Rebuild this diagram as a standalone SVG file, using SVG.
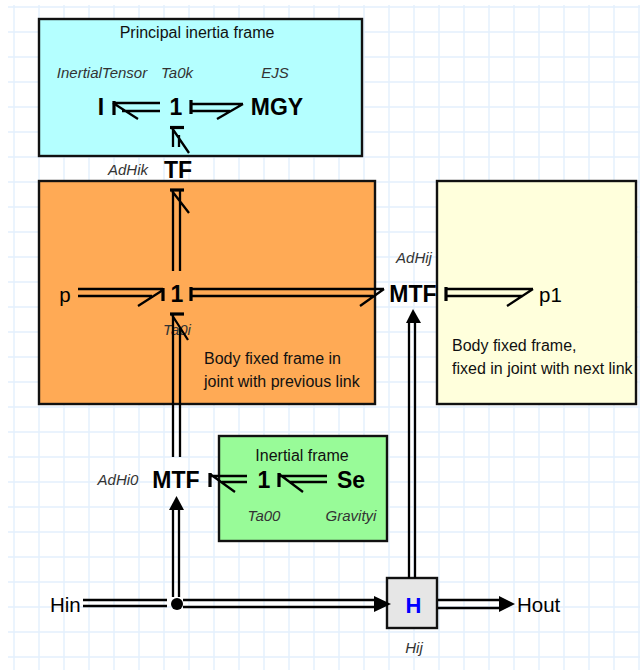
<svg xmlns="http://www.w3.org/2000/svg" width="640" height="670" viewBox="0 0 640 670">
<defs>
<style>
text{font-family:"Liberation Sans",Arial,sans-serif;fill:#000}
.grid{stroke:#e3f0fd;stroke-width:1.4;fill:none}
.box{stroke:#111;stroke-width:2.4}
.b{font-weight:bold;font-size:23px;text-anchor:middle}
.l{font-size:16px;fill:#111}
.i{font-size:15px;font-style:italic;fill:#333;text-anchor:middle}
.n{font-size:20.5px}
.bond{stroke:#000;stroke-width:2.3;fill:none}
.bar{stroke:#000;stroke-width:3.2;fill:none}
.arrow{fill:#000;stroke:none}
</style>
</defs>
<rect width="640" height="670" fill="#fff"/>
<g id="grid" class="grid">
<path d="M14 5V670M39 5V670M64 5V670M89 5V670M114 5V670M139 5V670M164 5V670M189 5V670M214 5V670M239 5V670M264 5V670M289 5V670M314 5V670M339 5V670M364 5V670M389 5V670M414 5V670M439 5V670M464 5V670M489 5V670M514 5V670M539 5V670M564 5V670M589 5V670M614 5V670M639 5V670"/>
<path d="M8 7H640M8 32H640M8 57H640M8 82H640M8 107H640M8 132H640M8 157H640M8 182H640M8 207H640M8 232H640M8 257H640M8 282H640M8 307H640M8 332H640M8 357H640M8 382H640M8 407H640M8 432H640M8 457H640M8 482H640M8 507H640M8 532H640M8 557H640M8 582H640M8 607H640M8 632H640M8 657H640"/>
</g>
<g id="frame-principal"><rect class="box" x="39" y="19" width="323" height="137" fill="#b4ffff"/><text class="l" x="197" y="38" text-anchor="middle">Principal inertia frame</text></g>
<g id="frame-body"><rect class="box" x="39" y="181" width="336" height="223" fill="#ffaa55"/><text class="l"><tspan x="204" y="364">Body fixed frame in</tspan><tspan x="204" y="387">joint with previous link</tspan></text></g>
<g id="frame-next"><rect class="box" x="437" y="181" width="199" height="223" fill="#ffffdc"/><text class="l"><tspan x="452" y="351">Body fixed frame,</tspan><tspan x="452" y="374">fixed in joint with next link</tspan></text></g>
<g id="frame-inertial"><rect class="box" x="219" y="436" width="168" height="105" fill="#98fb98"/><text class="l" x="302" y="461" text-anchor="middle">Inertial frame</text></g>

<g id="I"><text class="b" x="101" y="115">I</text><text class="i" x="102" y="78">InertialTensor</text></g>
<g id="one-a"><text class="b" x="176" y="115">1</text><text class="i" x="177" y="78">Ta0k</text></g>
<g id="MGY"><text class="b" x="277" y="115">MGY</text><text class="i" x="275" y="78">EJS</text></g>
<g id="TF"><text class="b" x="178" y="178">TF</text><text class="i" x="128" y="175">AdHik</text></g>
<g id="p"><text class="n" x="65" y="302" text-anchor="middle">p</text></g>
<g id="one-b"><text class="b" x="177" y="302">1</text><text class="i" x="177" y="335">Ta0i</text></g>
<g id="MTF-j"><text class="b" x="413" y="302">MTF</text><text class="i" x="414" y="263">AdHij</text></g>
<g id="p1"><text class="n" x="539" y="302">p1</text></g>
<g id="MTF-0"><text class="b" x="176" y="488">MTF</text><text class="i" x="118" y="485">AdHi0</text></g>
<g id="one-c"><text class="b" x="264" y="488">1</text><text class="i" x="264" y="521">Ta00</text></g>
<g id="Se"><text class="b" x="351" y="488">Se</text><text class="i" x="351" y="521">Gravityi</text></g>
<g id="Hin"><text class="n" x="50" y="612">Hin</text></g>
<g id="H"><rect class="box" x="387" y="578" width="50" height="50" fill="#e6e6e6"/><text x="413.500" y="613" text-anchor="middle" style="font-weight:bold;font-size:22px;fill:#0000ff">H</text><text class="i" x="414" y="653">Hij</text></g>
<g id="Hout"><text class="n" x="517" y="612">Hout</text></g>

<g id="connectors">
<path class="bond" d="M113 103H160M122 111H160M113 103L138 119"/><path class="bar" d="M114 101V115"/>
<path class="bond" d="M191 104H243M191 111H230M243 104L217 119"/><path class="bar" d="M191 100V114"/>
<path class="bond" d="M173 128V147M179 135V147M172 128L189 153"/><path class="bar" d="M170 127.500H184"/>
<path class="bond" d="M173 190V271M180 190V271M172 191L189 213"/><path class="bar" d="M170 190H184"/>
<path class="bond" d="M78 289H163M78 296H152M163 290L138 306"/><path class="bar" d="M163 288V301"/>
<path class="bond" d="M191 289H384M191 296H373M384 289L360 306"/><path class="bar" d="M191 287V301"/>
<path class="bond" d="M446 289H533M446 296H523M533 289L507 306"/><path class="bar" d="M446 287V301"/>
<path class="bond" d="M173 314V457M180 328V457M172 315L188 340"/><path class="bar" d="M170 314H184"/>
<path class="bond" d="M210 476H247M222 482H247M210 474L235 492"/><path class="bar" d="M210 473V487"/>
<path class="bond" d="M279 476H327M290 482H327M279 474L303 492"/><path class="bar" d="M279 473V487"/>
<path class="bond" d="M173 509V597M179 509V597"/><path class="arrow" d="M176.500 496L184 510H169Z"/>
<path class="bond" d="M83 600H167M83 606H167"/>
<path class="bond" d="M183 600H375M183 607H375"/><path class="arrow" d="M391 604L374 596V612Z"/>
<path class="bond" d="M409 322V578M415 322V578"/><path class="arrow" d="M413 309L421 323H406Z"/>
<path class="bond" d="M438 600H500M438 608H500"/><path class="arrow" d="M515 604L499 596V612Z"/>
<circle cx="177" cy="604" r="6" fill="#000"/>
</g>
</svg>
